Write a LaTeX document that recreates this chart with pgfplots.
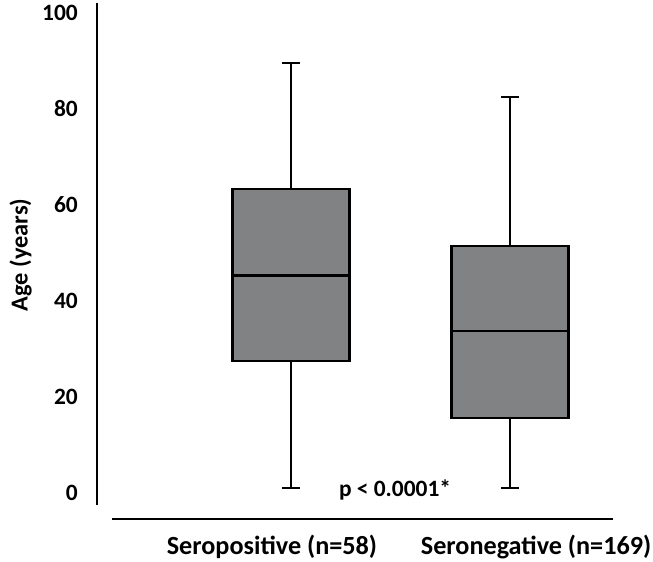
\documentclass[border=0pt]{standalone}
\usepackage{pgfplots}
\pgfplotsset{compat=1.18}
\usepgfplotslibrary{statistics}
\usepackage{fontspec}
\setmainfont{Carlito}
\definecolor{boxgray}{HTML}{808284}
\begin{document}
\begin{tikzpicture}
\begin{axis}[
  scale only axis,
  width=516bp, height=515.5bp,
  xmin=0.114, xmax=2.47,
  ymin=-5.4, ymax=102,
  axis line style={draw=none},
  clip=false,
  major tick length=0pt,
  ytick={0,20,40,60,80,100},
  xtick={0.913,2.119},
  xticklabels={Seropositive (n=58), Seronegative (n=169)},
  yticklabel style={font=\fontsize{23.5}{27}\selectfont\bfseries, anchor=east, inner sep=0pt, xshift=-19bp},
  xticklabel style={font=\fontsize{26.3}{30}\selectfont\bfseries, anchor=center, inner sep=0pt, yshift=-28bp},
  /pgf/number format/assume math mode=true,
  ylabel={Age (years)},
  ylabel style={font=\fontsize{24.5}{29}\selectfont\bfseries, at={(rel axis cs:-0.148,0.512)}, anchor=center},
  boxplot/draw direction=y,
  boxplot/box extend=0.534,
  boxplot/whisker extend=0.078,
]
\addplot+[boxplot prepared={draw position=1, lower whisker=1, lower quartile=27.5, median=45.3, upper quartile=63.3, upper whisker=89.6}, draw=black, line width=2.2pt, fill=boxgray, solid, mark=none] coordinates {};
\addplot+[boxplot prepared={draw position=2, lower whisker=1, lower quartile=15.6, median=33.7, upper quartile=51.5, upper whisker=82.5}, draw=black, line width=2.2pt, fill=boxgray, solid, mark=none] coordinates {};
\draw[line width=2.5pt] (axis cs:0.114,-2.5) -- (axis cs:0.114,102);
\draw[line width=2.5pt] (axis cs:0.183,-5.4) -- (axis cs:2.47,-5.4);
\node[font=\fontsize{23.5}{28}\selectfont\bfseries] at (axis cs:1.475,0.6) {p < 0.0001*};
\coordinate (bl) at (axis cs:-0.329,-14.375);
\coordinate (tr) at (axis cs:2.653,102.7);
\end{axis}
\pgfresetboundingbox
\path (bl) rectangle (tr);
\end{tikzpicture}
\end{document}
